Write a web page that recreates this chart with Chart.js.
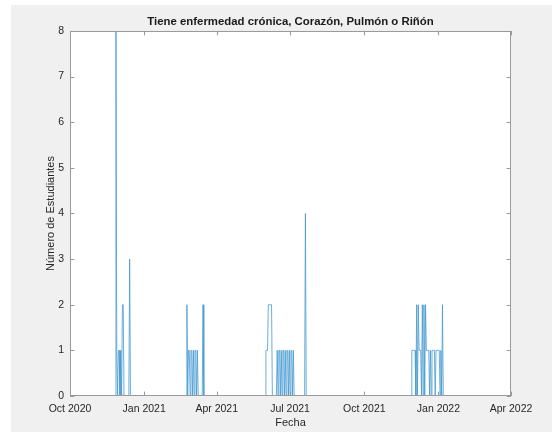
<!DOCTYPE html>
<html><head><meta charset="utf-8">
<script src="https://cdn.jsdelivr.net/npm/chart.js@4"></script>
<style>html,body{margin:0;padding:0;background:#fff;}canvas{display:block}</style>
</head><body>
<canvas id="c" width="552" height="432"></canvas>
<script>
const chartTitle = 'Tiene enfermedad crónica, Corazón, Pulmón o Riñón';
const xTitle = 'Fecha';
const yTitle = 'Número de Estudiantes';
const xTickDates = ['2020-10-01','2021-01-01','2021-04-01','2021-07-01','2021-10-01','2022-01-01','2022-04-01'];
const xTickLabels = ['Oct 2020','Jan 2021','Apr 2021','Jul 2021','Oct 2021','Jan 2022','Apr 2022'];
const yTicks = [0,1,2,3,4,5,6,7,8];

const dates = [
 '2020-11-26','2020-11-27','2020-11-28','2020-11-29','2020-11-30','2020-12-01','2020-12-02','2020-12-03','2020-12-04','2020-12-05','2020-12-06','2020-12-07','2020-12-13','2020-12-14','2020-12-15',
 '2021-02-22','2021-02-23','2021-02-24','2021-02-25','2021-02-26','2021-02-27','2021-02-28','2021-03-01','2021-03-02','2021-03-03','2021-03-04','2021-03-05','2021-03-06','2021-03-07','2021-03-08','2021-03-09','2021-03-14','2021-03-15','2021-03-16',
 '2021-05-31','2021-06-01','2021-06-02','2021-06-03','2021-06-04','2021-06-05','2021-06-06','2021-06-07','2021-06-08','2021-06-09',
 '2021-06-14','2021-06-15','2021-06-16','2021-06-17','2021-06-18','2021-06-19','2021-06-20','2021-06-21','2021-06-22','2021-06-23','2021-06-24','2021-06-25','2021-06-26','2021-06-27','2021-06-28','2021-06-29','2021-06-30','2021-07-01','2021-07-02','2021-07-03','2021-07-04','2021-07-05','2021-07-06',
 '2021-07-19','2021-07-20','2021-07-21',
 '2021-11-28','2021-11-29','2021-11-30','2021-12-01','2021-12-02','2021-12-03','2021-12-04','2021-12-05','2021-12-06','2021-12-07','2021-12-08','2021-12-09','2021-12-10','2021-12-11','2021-12-12','2021-12-13','2021-12-14','2021-12-15','2021-12-16','2021-12-17','2021-12-18','2021-12-19','2021-12-20','2021-12-21','2021-12-22','2021-12-23','2021-12-24','2021-12-25','2021-12-26','2021-12-27','2021-12-28','2021-12-29','2021-12-30','2021-12-31','2022-01-01','2022-01-02','2022-01-03','2022-01-04','2022-01-05','2022-01-06','2022-01-07'
];
const values = [
 0,8,1,0,1,1,0,1,0,2,2,0,0,3,0,
 0,2,0,1,1,0,1,1,0,1,0,1,1,0,1,0,0,2,0,
 0,1,1,1,2,2,2,2,2,0,
 0,1,0,1,1,0,1,0,1,1,0,1,0,1,1,0,1,0,1,1,0,1,0,
 0,4,0,
 0,1,1,1,1,1,0,2,0,2,1,1,1,0,2,0,2,0,2,1,1,1,1,0,1,0,1,1,1,1,0,1,1,1,1,1,0,1,0,2,0
];

const epoch = Date.UTC(2020,9,1);
function dayOf(s){const p=s.split('-').map(Number);return (Date.UTC(p[0],p[1]-1,p[2])-epoch)/86400000;}
const xTickVals = xTickDates.map(dayOf);

const FONT = "'Liberation Sans', Arial, Helvetica, sans-serif";

const bgPlugin = {
  id:'bg',
  beforeDraw(chart){
    const {ctx, chartArea:a} = chart;
    ctx.save();
    ctx.fillStyle='#ffffff'; ctx.fillRect(0,0,chart.width,chart.height);
    ctx.fillStyle='#f0f0f0'; ctx.fillRect(11,5,chart.width-11,chart.height-5);
    ctx.fillStyle='#ffffff'; ctx.fillRect(a.left,a.top,a.right-a.left,a.bottom-a.top);
    ctx.restore();
  },
  afterDraw(chart){
    const {ctx, chartArea:a, scales} = chart;
    ctx.save();
    ctx.strokeStyle='#9a9a9a'; ctx.lineWidth=1;
    ctx.strokeRect(a.left+0.5,a.top+0.5,a.right-a.left-1,a.bottom-a.top-1);
    const tl=4.4;
    ctx.beginPath();
    xTickVals.forEach(v=>{const x=Math.round(scales.x.getPixelForValue(v))+0.5;
      ctx.moveTo(x,a.bottom);ctx.lineTo(x,a.bottom-tl);ctx.moveTo(x,a.top);ctx.lineTo(x,a.top+tl);});
    yTicks.forEach(v=>{const y=Math.round(scales.y.getPixelForValue(v))+0.5;
      ctx.moveTo(a.left,y);ctx.lineTo(a.left+tl,y);ctx.moveTo(a.right,y);ctx.lineTo(a.right-tl,y);});
    ctx.stroke();
    ctx.restore();
  }
};

new Chart(document.getElementById('c'),{
  type:'line',
  data:{datasets:[{
    data: dates.map((d,i)=>({x:dayOf(d),y:values[i]})),
    borderColor:'#4499d2', borderWidth:0.8, pointRadius:0, tension:0, fill:false
  }]},
  options:{
    responsive:false, animation:false, devicePixelRatio:1,
    layout:{padding:{left:0,right:41,top:0,bottom:0}},
    plugins:{
      legend:{display:false}, tooltip:{enabled:false},
      title:{display:true,text:chartTitle,fullSize:false,color:'#1a1a1a',
        font:{family:FONT,size:11.4,weight:'bold'},padding:{top:15.2,bottom:2.1}}
    },
    scales:{
      x:{type:'linear',min:xTickVals[0],max:xTickVals[xTickVals.length-1],
        afterFit(s){s.height=36;},
        afterBuildTicks(s){s.ticks=xTickVals.map(v=>({value:v}));},
        grid:{display:false,drawTicks:false}, border:{display:false},
        ticks:{autoSkip:false,maxRotation:0,padding:6.5,color:'#262626',font:{family:FONT,size:10.5},
          callback:(v)=>{const i=xTickVals.indexOf(v);return i>=0?xTickLabels[i]:'';}},
        title:{display:true,text:xTitle,color:'#262626',font:{family:FONT,size:11},padding:{top:0,bottom:2}}
      },
      y:{type:'linear',min:0,max:8,
        afterFit(s){s.width=70;},
        afterBuildTicks(s){s.ticks=yTicks.map(v=>({value:v}));},
        grid:{display:false,drawTicks:false}, border:{display:false},
        ticks:{padding:6,color:'#262626',font:{family:FONT,size:10.5}},
        title:{display:true,text:yTitle,color:'#262626',font:{family:FONT,size:11},padding:{top:44.4,bottom:0}}
      }
    }
  },
  plugins:[bgPlugin]
});
</script>
</body></html>
